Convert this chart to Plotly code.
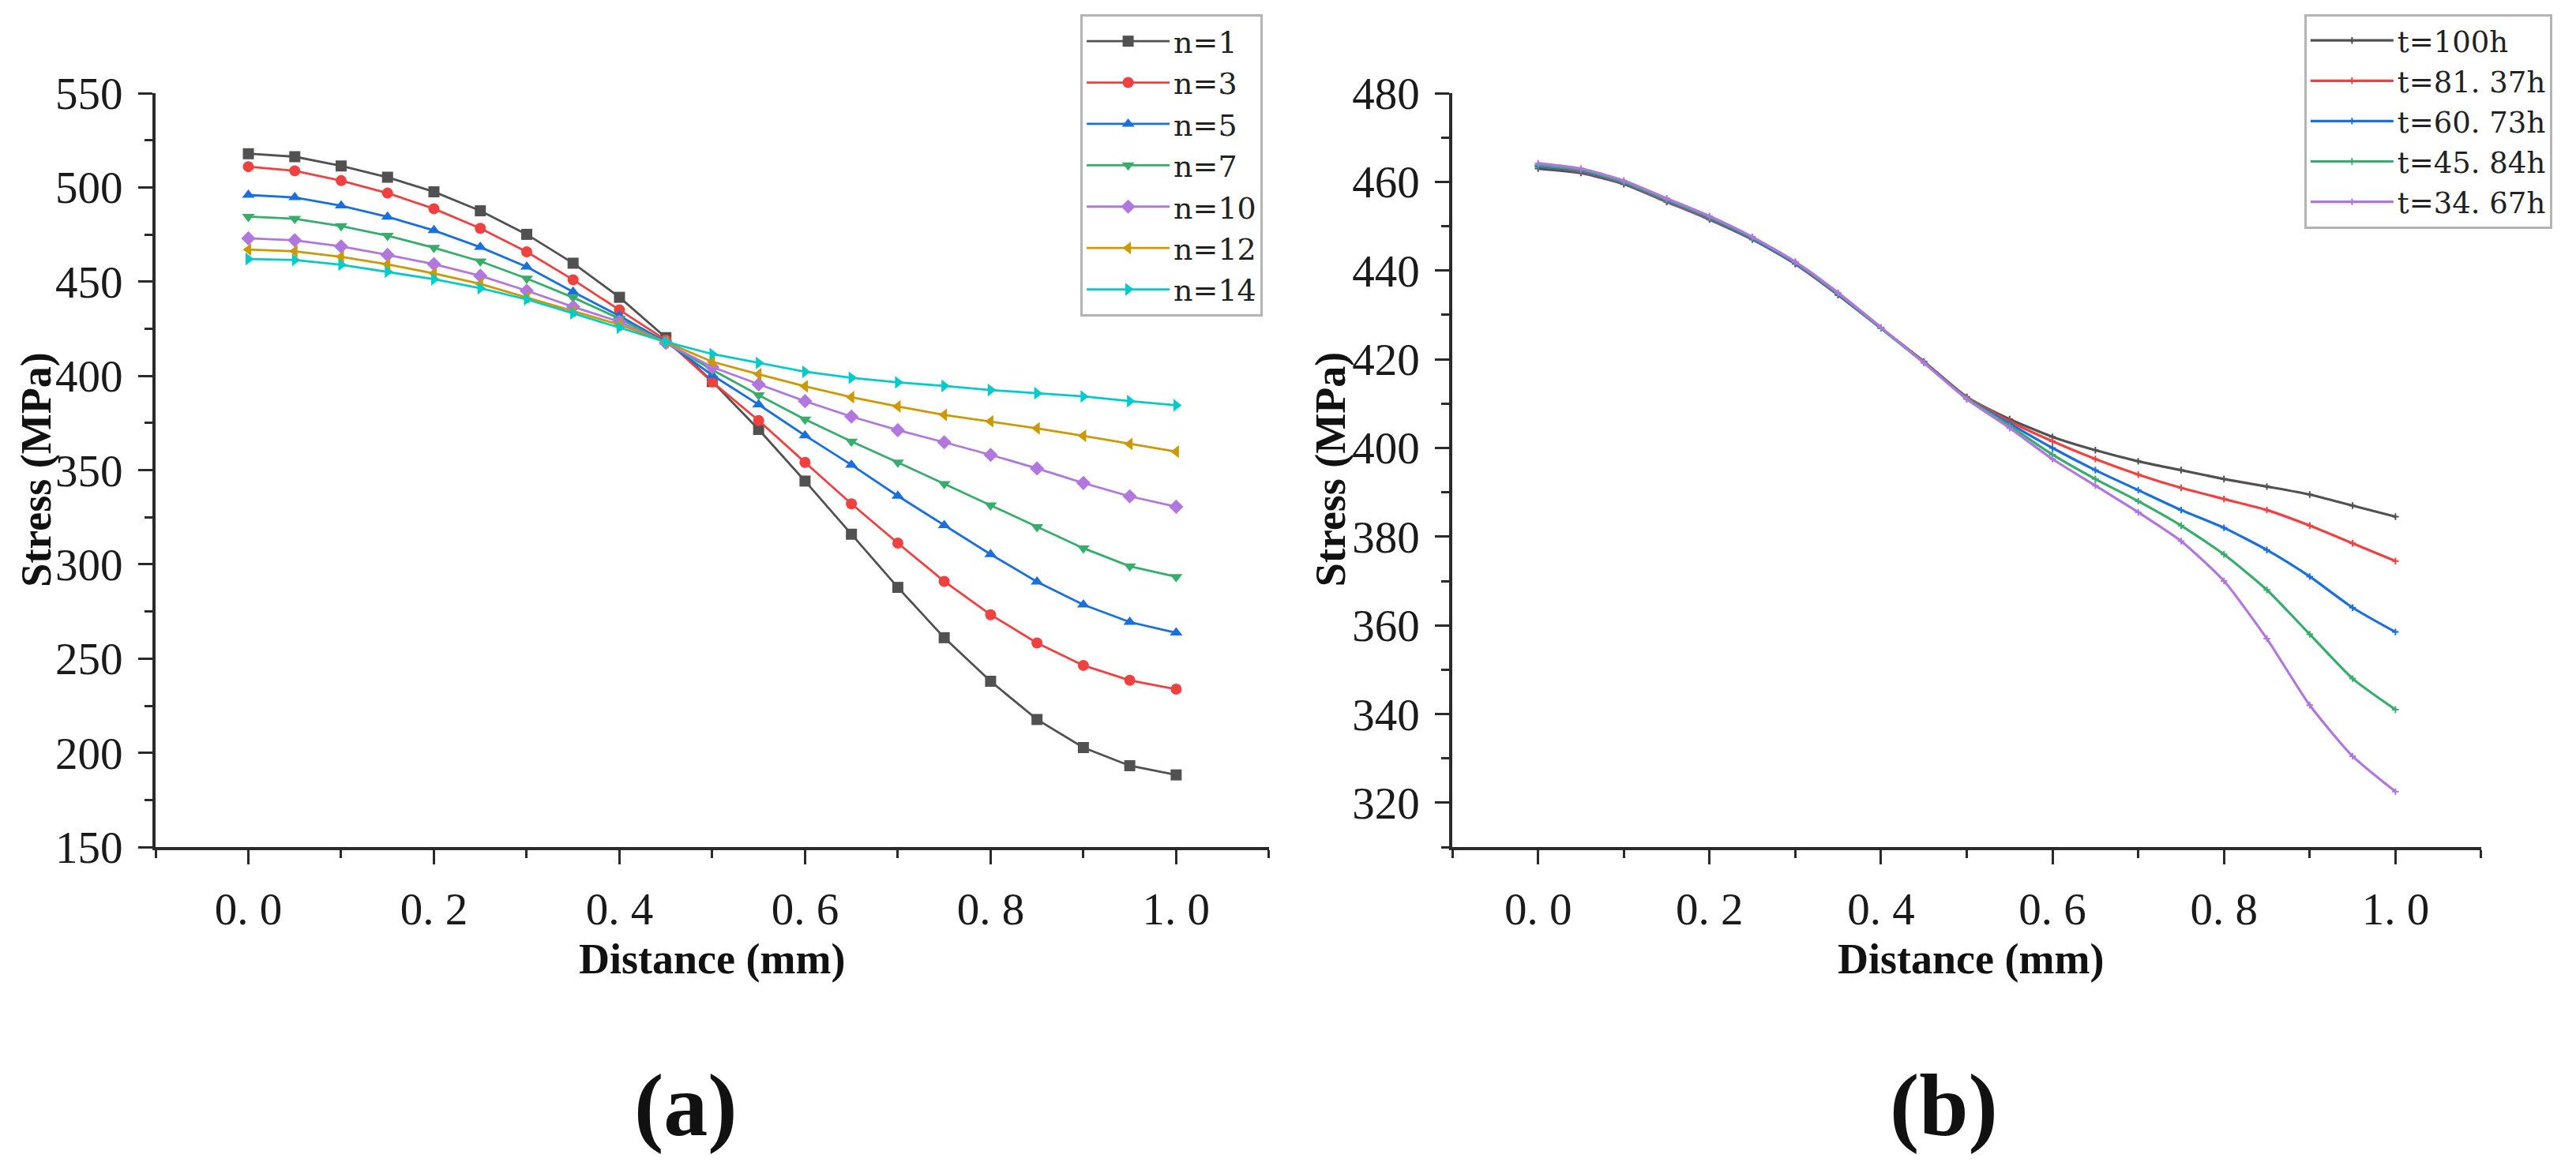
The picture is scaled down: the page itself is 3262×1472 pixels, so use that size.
import plotly.graph_objects as go

# ---------------- data ----------------
distance = [0.0, 0.05, 0.1, 0.15, 0.2, 0.25, 0.3, 0.35, 0.4, 0.45, 0.5,
            0.55, 0.6, 0.65, 0.7, 0.75, 0.8, 0.85, 0.9, 0.95, 1.0]

# (a) stress vs distance for different n
n_labels = ["n=1", "n=3", "n=5", "n=7", "n=10", "n=12", "n=14"]
n1 = [517.9, 516.3, 511.4, 505.4, 497.7, 487.6, 475.1, 459.8, 441.7, 420.3, 397.0,
      371.6, 344.2, 316.0, 287.8, 261.1, 238.0, 217.7, 202.8, 193.2, 188.3]
n3 = [511.0, 508.8, 503.6, 497.0, 488.7, 478.3, 465.8, 451.0, 435.0, 419.0, 396.8,
      376.3, 354.1, 332.1, 311.3, 291.0, 273.3, 258.3, 246.4, 238.5, 233.8]
n5 = [496.0, 494.7, 490.3, 484.4, 477.2, 468.3, 457.9, 444.6, 431.8, 418.0, 400.4,
      384.8, 368.4, 352.8, 336.3, 320.7, 305.3, 290.8, 278.6, 269.4, 263.7]
n7 = [484.5, 483.4, 479.5, 474.4, 468.0, 460.8, 451.7, 441.6, 430.4, 417.5, 403.2,
      389.8, 376.9, 365.2, 354.1, 342.7, 331.4, 319.9, 308.6, 299.0, 293.4]
n10 = [473.0, 472.0, 468.7, 464.2, 459.3, 453.1, 445.2, 436.7, 428.7, 417.5, 404.7,
       395.5, 386.6, 378.4, 371.2, 364.8, 358.1, 350.9, 343.2, 336.1, 330.6]
n12 = [467.0, 466.1, 463.2, 459.2, 454.4, 448.8, 441.6, 434.4, 427.2, 418.0, 407.5,
       400.9, 394.5, 388.7, 383.8, 379.3, 375.9, 372.2, 368.2, 363.9, 359.8]
n14 = [462.0, 461.5, 459.0, 455.3, 451.3, 446.5, 440.6, 433.2, 425.6, 418.0, 411.6,
       406.9, 402.2, 399.0, 396.6, 394.7, 392.5, 390.8, 389.1, 386.6, 384.4]

# (b) stress vs distance at different times
t_labels = ["t=100h", "t=81. 37h", "t=60. 73h", "t=45. 84h", "t=34. 67h"]
t100 = [463.0, 462.0, 459.5, 455.5, 451.5, 447.0, 441.5, 434.5, 427.0, 419.5, 411.5,
        406.5, 402.5, 399.5, 397.0, 395.0, 393.0, 391.3, 389.5, 387.0, 384.5]
t81 = [463.5, 462.3, 459.7, 455.6, 451.6, 447.1, 441.5, 434.5, 427.0, 419.4, 411.5,
       406.0, 401.5, 397.5, 394.0, 391.0, 388.5, 386.0, 382.5, 378.5, 374.5]
t60 = [463.5, 462.5, 459.8, 455.8, 451.8, 447.2, 441.6, 434.6, 427.0, 419.3, 411.3,
       405.5, 400.0, 395.0, 390.5, 386.0, 382.0, 377.0, 371.0, 364.0, 358.5]
t45 = [463.8, 462.7, 460.0, 456.0, 452.0, 447.4, 441.8, 434.8, 427.0, 419.2, 411.2,
       405.0, 398.5, 393.0, 388.0, 382.5, 376.0, 368.0, 358.0, 348.0, 341.0]
t34 = [464.2, 463.0, 460.3, 456.3, 452.3, 447.6, 442.0, 435.0, 427.2, 419.2, 411.0,
       404.5, 397.5, 391.5, 385.5, 379.0, 370.0, 357.0, 342.0, 330.5, 322.5]

x_tickvals = [0.0, 0.2, 0.4, 0.6, 0.8, 1.0]
x_ticktext = ["0. 0", "0. 2", "0. 4", "0. 6", "0. 8", "1. 0"]

# ---------------- styles ----------------
palette = ["#515151", "#F14040", "#1A6FDF", "#37AD6B", "#B177DE", "#CC9900", "#00CBCC"]
symbols = ["square", "circle", "triangle-up", "triangle-down", "diamond",
           "triangle-left", "triangle-right"]
FONT = "Liberation Serif"
LEGFONT = "DejaVu Serif"

fig = go.Figure()

for lab, ys, col, sym in zip(n_labels, [n1, n3, n5, n7, n10, n12, n14], palette, symbols):
    fig.add_trace(go.Scatter(
        x=distance, y=ys, name=lab, mode="lines+markers",
        line=dict(color=col, width=2.8),
        marker=dict(symbol=sym, size=14, color=col),
        xaxis="x", yaxis="y", legend="legend"))

for lab, ys, col in zip(t_labels, [t100, t81, t60, t45, t34], palette):
    fig.add_trace(go.Scatter(
        x=distance, y=ys, name=lab, mode="lines+markers",
        line=dict(color=col, width=3.2, shape="spline", smoothing=0.6),
        marker=dict(symbol="cross-thin", size=6, color=col, line=dict(color=col, width=2)),
        xaxis="x2", yaxis="y2", legend="legend2"))

axis_common = dict(
    showline=True, linewidth=4, linecolor="#2a2a2a",
    ticks="outside", ticklen=18, tickwidth=3, tickcolor="#2a2a2a",
    showgrid=False, zeroline=False, mirror=False, automargin=False,
    tickfont=dict(family=FONT, size=57, color="#1a1a1a"),
    ticklabelstandoff=8,
)
minor_common = dict(ticks="outside", ticklen=10, tickwidth=3, tickcolor="#2a2a2a")

fig.update_layout(
    width=3262, height=1472,
    margin=dict(l=0, r=0, t=0, b=0, pad=0, autoexpand=False),
    paper_bgcolor="white", plot_bgcolor="white",
    showlegend=True,
    xaxis=dict(domain=[0.0604, 0.4926], range=[-0.1, 1.1], anchor="y",
               tickmode="array", tickvals=x_tickvals, ticktext=x_ticktext,
               minor=dict(tickmode="linear", tick0=-0.1, dtick=0.1, **minor_common),
               **axis_common),
    yaxis=dict(domain=[0.271, 0.9198], range=[150, 550], anchor="x",
               tickmode="linear", tick0=150, dtick=50,
               minor=dict(tickmode="linear", tick0=175, dtick=25, **minor_common),
               **axis_common),
    xaxis2=dict(domain=[0.5638, 0.9632], range=[-0.1, 1.1], anchor="y2",
                tickmode="array", tickvals=x_tickvals, ticktext=x_ticktext,
                minor=dict(tickmode="linear", tick0=-0.1, dtick=0.1, **minor_common),
                **axis_common),
    yaxis2=dict(domain=[0.271, 0.9198], range=[310, 480], anchor="x2",
                tickmode="linear", tick0=320, dtick=20,
                minor=dict(tickmode="linear", tick0=310, dtick=10, **minor_common),
                **axis_common),
    legend=dict(x=0.4194, y=0.9878, xanchor="left", yanchor="top",
                bgcolor="white", bordercolor="#b4b4b4", borderwidth=3,
                font=dict(family=LEGFONT, size=38, color="#222"),
                tracegroupgap=0, itemwidth=105),
    legend2=dict(x=0.8945, y=0.988, xanchor="left", yanchor="top",
                 bgcolor="white", bordercolor="#b4b4b4", borderwidth=3,
                 font=dict(family=LEGFONT, size=37, color="#222"),
                 tracegroupgap=0, itemwidth=105),
)

ann_font = dict(family=FONT, size=54, color="#111")
annotations = [
    dict(text="<b>Stress (MPa)</b>", x=0.0140, y=0.5958, textangle=-90, font=ann_font),
    dict(text="<b>Stress (MPa)</b>", x=0.5166, y=0.5958, textangle=-90, font=ann_font),
    dict(text="<b>Distance (mm)</b>", x=0.2765, y=0.1746, font=ann_font),
    dict(text="<b>Distance (mm)</b>", x=0.765, y=0.1746, font=ann_font),
    dict(text="<b>(a)</b>", x=0.2661, y=0.0489, font=dict(family=FONT, size=112, color="#111")),
    dict(text="<b>(b)</b>", x=0.7545, y=0.0489, font=dict(family=FONT, size=112, color="#111")),
]
for a in annotations:
    fig.add_annotation(xref="paper", yref="paper", showarrow=False,
                       xanchor="center", yanchor="middle", **a)

fig.write_html("out.html",
               config={"displayModeBar": False},
               post_script="document.body.style.margin='0px';document.body.style.overflow='hidden';")
